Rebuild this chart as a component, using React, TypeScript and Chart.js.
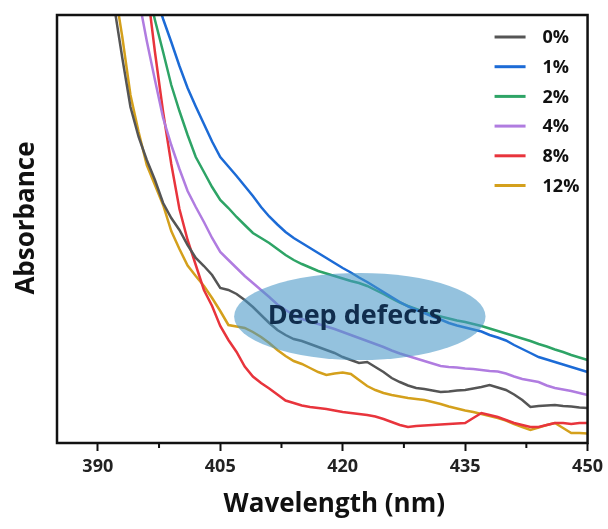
import React, { useEffect, useRef } from "react";
import { Chart, registerables } from "chart.js";

Chart.register(...registerables);

// Wavelength grid (nm)
const wavelengths = [
  390, 391, 392, 393, 394, 395, 396, 397, 398, 399,
  400, 401, 402, 403, 404, 405, 406, 407, 408, 409,
  410, 411, 412, 413, 414, 415, 416, 417, 418, 419,
  420, 421, 422, 423, 424, 425, 426, 427, 428, 429,
  430, 431, 432, 433, 434, 435, 436, 437, 438, 439,
  440, 441, 442, 443, 444, 445, 446, 447, 448, 449, 450,
];

// Absorbance (a.u.)
const abs0 = [
  5.6, 4.93, 4.37, 3.85, 3.36, 3.06, 2.83, 2.63, 2.4, 2.25,
  2.13, 1.98, 1.85, 1.77, 1.68, 1.55, 1.53, 1.49, 1.43, 1.36,
  1.28, 1.2, 1.13, 1.08, 1.04, 1.02, 0.99, 0.96, 0.93, 0.9,
  0.86, 0.83, 0.8, 0.81, 0.76, 0.71, 0.65, 0.61, 0.575, 0.55,
  0.54, 0.525, 0.51, 0.515, 0.525, 0.53, 0.545, 0.56, 0.58, 0.555,
  0.53, 0.485, 0.43, 0.36, 0.37, 0.375, 0.38, 0.37, 0.365, 0.355, 0.35,
];
const abs1 = [
  7.5, 6.9, 6.4, 5.9, 5.45, 5.1, 4.77, 4.49, 4.24, 4.01,
  3.77, 3.55, 3.365, 3.19, 3.015, 2.86, 2.765, 2.67, 2.57, 2.47,
  2.36, 2.265, 2.185, 2.11, 2.05, 2.0, 1.95, 1.9, 1.85, 1.8,
  1.75, 1.705, 1.655, 1.61, 1.56, 1.51, 1.46, 1.41, 1.365, 1.33,
  1.3, 1.265, 1.235, 1.2, 1.175, 1.155, 1.135, 1.115, 1.08, 1.055,
  1.025, 0.98, 0.94, 0.9, 0.86, 0.835, 0.81, 0.785, 0.76, 0.735, 0.71,
];
const abs2 = [
  7.5, 6.9, 6.35, 5.86, 5.38, 4.94, 4.57, 4.23, 3.91, 3.58,
  3.32, 3.08, 2.86, 2.71, 2.56, 2.43, 2.35, 2.26, 2.18, 2.1,
  2.05, 2.0, 1.94, 1.88, 1.83, 1.79, 1.755, 1.72, 1.695, 1.67,
  1.645, 1.62, 1.6, 1.57, 1.53, 1.49, 1.445, 1.405, 1.37, 1.34,
  1.31, 1.285, 1.265, 1.245, 1.225, 1.21, 1.19, 1.17, 1.145, 1.12,
  1.095, 1.07, 1.045, 1.02, 0.99, 0.965, 0.935, 0.91, 0.88, 0.855, 0.83,
];
const abs4 = [
  7.3, 6.7, 6.1, 5.53, 4.96, 4.45, 4.02, 3.63, 3.25, 2.98,
  2.74, 2.52, 2.36, 2.21, 2.05, 1.91, 1.83, 1.75, 1.67, 1.6,
  1.53, 1.46, 1.385, 1.33, 1.28, 1.24, 1.215, 1.19, 1.165, 1.14,
  1.11, 1.08, 1.05, 1.02, 0.99, 0.96, 0.925, 0.895, 0.87, 0.845,
  0.82, 0.795, 0.77, 0.76, 0.755, 0.745, 0.74, 0.73, 0.72, 0.715,
  0.695, 0.665, 0.64, 0.625, 0.61, 0.575, 0.55, 0.535, 0.52, 0.5, 0.48,
];
const abs8 = [
  9.1, 8.3, 7.5, 6.7, 5.98, 5.27, 4.57, 3.91, 3.31, 2.79,
  2.34, 2.03, 1.78, 1.53, 1.37, 1.17, 1.03, 0.91, 0.765, 0.665,
  0.6, 0.545, 0.485, 0.425, 0.4, 0.375, 0.36, 0.35, 0.34, 0.325,
  0.31, 0.3, 0.29, 0.28, 0.265, 0.24, 0.21, 0.18, 0.16, 0.17,
  0.175, 0.18, 0.185, 0.19, 0.195, 0.2, 0.25, 0.3, 0.28, 0.26,
  0.23, 0.2, 0.18, 0.16, 0.16, 0.18, 0.2, 0.2, 0.19, 0.2, 0.2,
];
const abs12 = [
  5.73, 5.13, 4.57, 4.06, 3.48, 3.11, 2.78, 2.58, 2.38, 2.12,
  1.94, 1.775, 1.67, 1.57, 1.45, 1.32, 1.18, 1.165, 1.15, 1.11,
  1.06, 1.0, 0.93, 0.87, 0.82, 0.79, 0.75, 0.71, 0.68, 0.695,
  0.705, 0.69, 0.63, 0.57, 0.53, 0.5, 0.48, 0.465, 0.45, 0.44,
  0.43, 0.41, 0.39, 0.365, 0.345, 0.325, 0.31, 0.29, 0.27, 0.25,
  0.225, 0.19, 0.16, 0.13, 0.155, 0.18, 0.2, 0.15, 0.1, 0.1, 0.095,
];

const seriesLabels = ["0%", "1%", "2%", "4%", "8%", "12%"];
const seriesValues = [abs0, abs1, abs2, abs4, abs8, abs12];
const seriesColors = ["#555555", "#1c6bd6", "#2ea466", "#b07ce0", "#e8343c", "#d4a01c"];

const xMajorTicks = [390, 405, 420, 435, 450];
const xMinorTicks = [397.5, 412.5, 427.5, 442.5];
const xMin = 385;
const xMax = 450;
const yMin = 0;
const yMax = 4.28;

const xTitle = "Wavelength (nm)";
const yTitle = "Absorbance";

const noteText = "Deep defects";
const noteEllipse = { x: 422.1, y: 1.265, halfWidth: 15.4, halfHeight: 0.435 };
const noteTextPos = { x: 421.5, y: 1.27 };

const FONT = '"Open Sans", "DejaVu Sans", sans-serif';

const decorPlugin = {
  id: "decor",
  afterDatasetsDraw(chart: any) {
    const { ctx, scales } = chart;
    const x = scales.x;
    const y = scales.y;
    const cx = x.getPixelForValue(noteEllipse.x);
    const cy = y.getPixelForValue(noteEllipse.y);
    const rx = Math.abs(x.getPixelForValue(noteEllipse.x + noteEllipse.halfWidth) - cx);
    const ry = Math.abs(y.getPixelForValue(noteEllipse.y + noteEllipse.halfHeight) - cy);
    ctx.save();
    ctx.fillStyle = "rgba(70,150,198,0.58)";
    ctx.beginPath();
    ctx.ellipse(cx, cy, rx, ry, 0, 0, Math.PI * 2);
    ctx.fill();
    ctx.fillStyle = "#102d4d";
    ctx.font = `bold 27px ${FONT}`;
    ctx.textAlign = "center";
    ctx.textBaseline = "middle";
    ctx.fillText(noteText, x.getPixelForValue(noteTextPos.x), y.getPixelForValue(noteTextPos.y));
    ctx.restore();
  },
  afterDraw(chart: any) {
    const { ctx, chartArea, scales } = chart;
    const { left, right, top, bottom } = chartArea;
    ctx.save();
    // frame
    ctx.strokeStyle = "#111";
    ctx.lineWidth = 2.5;
    ctx.beginPath();
    ctx.rect(left, top, right - left, bottom - top);
    ctx.stroke();
    // minor ticks
    ctx.lineWidth = 2;
    ctx.beginPath();
    for (const v of xMinorTicks) {
      const px = scales.x.getPixelForValue(v);
      ctx.moveTo(px, bottom);
      ctx.lineTo(px, bottom + 5);
    }
    ctx.stroke();
    // axis titles
    ctx.fillStyle = "#111";
    ctx.font = `bold 26px ${FONT}`;
    ctx.textAlign = "center";
    ctx.textBaseline = "middle";
    ctx.fillText(xTitle, (left + right) / 2 + 12, bottom + 62);
    ctx.save();
    ctx.translate(27, (top + bottom) / 2 - 11);
    ctx.rotate(-Math.PI / 2);
    ctx.fillText(yTitle, 0, 0);
    ctx.restore();
    // legend
    const rowTop = top + 22;
    const rowGap = 29.7;
    ctx.font = `bold 18px ${FONT}`;
    ctx.textAlign = "left";
    ctx.textBaseline = "middle";
    chart.data.datasets.forEach((ds: any, i: number) => {
      const yy = rowTop + i * rowGap;
      ctx.strokeStyle = ds.borderColor;
      ctx.lineWidth = 3;
      ctx.beginPath();
      ctx.moveTo(right - 93, yy);
      ctx.lineTo(right - 62, yy);
      ctx.stroke();
      ctx.fillStyle = "#111";
      ctx.fillText(ds.label, right - 45, yy + 1);
    });
    ctx.restore();
  },
};

export default function App() {
  const canvasRef = useRef<HTMLCanvasElement | null>(null);

  useEffect(() => {
    document.body.style.margin = "0";
    const canvas = canvasRef.current;
    if (!canvas) return;
    const chart = new Chart(canvas, {
      type: "line",
      data: {
        datasets: seriesLabels.map((label, i) => ({
          label,
          data: wavelengths.map((w, j) => ({ x: w, y: seriesValues[i][j] })),
          borderColor: seriesColors[i],
          backgroundColor: seriesColors[i],
          borderWidth: 2.5,
          pointRadius: 0,
          tension: 0,
          fill: false,
        })),
      },
      options: {
        responsive: false,
        animation: false,
        devicePixelRatio: 1,
        layout: { padding: { top: 15, right: 18, left: 0, bottom: 0 } },
        plugins: {
          legend: { display: false },
          tooltip: { enabled: false },
        },
        scales: {
          x: {
            type: "linear",
            min: xMin,
            max: xMax,
            afterBuildTicks: (s: any) => {
              s.ticks = xMajorTicks.map((v) => ({ value: v }));
            },
            afterFit: (s: any) => {
              s.height = 86;
            },
            ticks: {
              color: "#222",
              font: { family: FONT, weight: "bold", size: 18 },
              padding: 5,
              maxRotation: 0,
            },
            grid: {
              display: true,
              drawOnChartArea: false,
              drawTicks: true,
              tickLength: 8,
              tickWidth: 2,
              tickColor: "#111",
            },
            border: { display: false },
            title: { display: false },
          },
          y: {
            type: "linear",
            min: yMin,
            max: yMax,
            afterFit: (s: any) => {
              s.width = 57;
            },
            ticks: { display: false },
            grid: { display: false },
            border: { display: false },
            title: { display: false },
          },
        },
      },
      plugins: [decorPlugin],
    } as any);
    return () => chart.destroy();
  }, []);

  return (
    <div style={{ width: 608, height: 529 }}>
      <canvas ref={canvasRef} width={608} height={529} style={{ display: "block" }} />
    </div>
  );
}
